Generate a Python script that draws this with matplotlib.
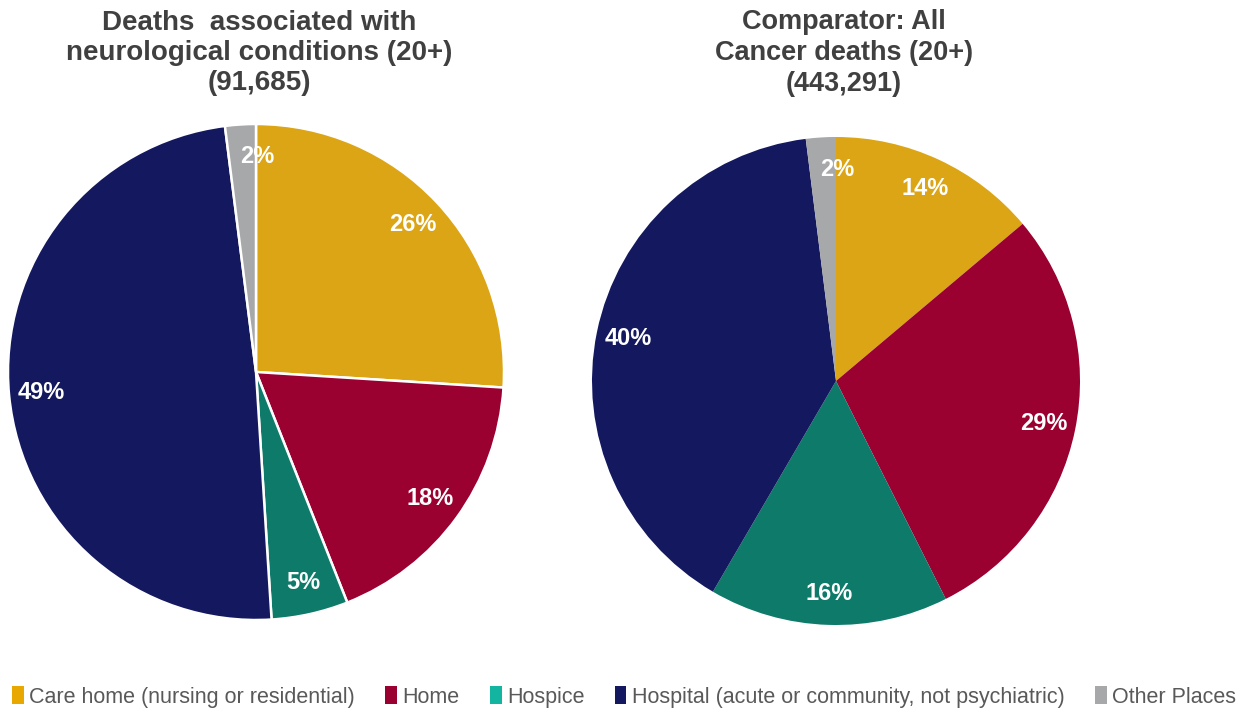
import matplotlib
matplotlib.use("Agg")
import matplotlib.pyplot as plt
from matplotlib.patches import Patch

plt.rcParams['font.family'] = ['Liberation Sans', 'DejaVu Sans']

categories = ['Care home (nursing or residential)', 'Home', 'Hospice',
              'Hospital (acute or community, not psychiatric)', 'Other Places']
neuro_pct = [26, 18, 5, 49, 2]
cancer_pct = [14, 29, 16, 40, 2]
neuro_title = 'Deaths  associated with\nneurological conditions (20+)\n(91,685)'
cancer_title = 'Comparator: All\nCancer deaths (20+)\n(443,291)'

colors = ['#DCA516', '#9A0030', '#0E7A69', '#13185F', '#A7A8AA']
legend_colors = ['#E8A800', '#9A0030', '#13B5A0', '#13185F', '#A7A8AA']

W, H = 1248, 722
fig = plt.figure(figsize=(W / 100, H / 100), dpi=100)


def pie_axes(cx, cy, r):
    return fig.add_axes([(cx - r) / W, (H - cy - r) / H, 2 * r / W, 2 * r / H])


def draw_pie(ax, values, edge):
    labels = ['%d%%' % v for v in values]
    wedges, texts = ax.pie(values, colors=colors, startangle=90,
                           counterclock=False, labels=labels,
                           labeldistance=0.87,
                           wedgeprops=dict(edgecolor='white', linewidth=edge),
                           textprops=dict(color='white', fontsize=17,
                                          fontweight='bold'))
    for t in texts:
        t.set_ha('center')
        t.set_va('center')
    # the thin "Other" slice label sits a bit to the right in the original
    x, y = texts[-1].get_position()
    texts[-1].set_position((x + 0.06, y))
    ax.set_xlim(-1, 1)
    ax.set_ylim(-1, 1)
    ax.set_aspect('equal')
    ax.axis('off')


ax1 = pie_axes(256, 372, 248)
draw_pie(ax1, neuro_pct, 1.8)
ax2 = pie_axes(836, 381, 244)
draw_pie(ax2, cancer_pct, 0)

fig.text(259 / W, 1 - 53 / H, neuro_title, ha='center', va='center',
         fontsize=20, fontweight='bold', color='#404040', linespacing=1.22)
fig.text(844 / W, 1 - 53 / H, cancer_title, ha='center', va='center',
         fontsize=19.5, fontweight='bold', color='#404040', linespacing=1.24)

handles = [Patch(facecolor=c, edgecolor='none') for c in legend_colors]
leg = fig.legend(handles, categories, loc='center', ncol=5,
                 bbox_to_anchor=(0.5, 1 - 697 / H), frameon=False,
                 handlelength=0.55, handleheight=0.9, handletextpad=0.25,
                 columnspacing=1.4, prop=dict(size=15.5))
for t in leg.get_texts():
    t.set_color('#595959')

fig.savefig('out.png', dpi=100)
